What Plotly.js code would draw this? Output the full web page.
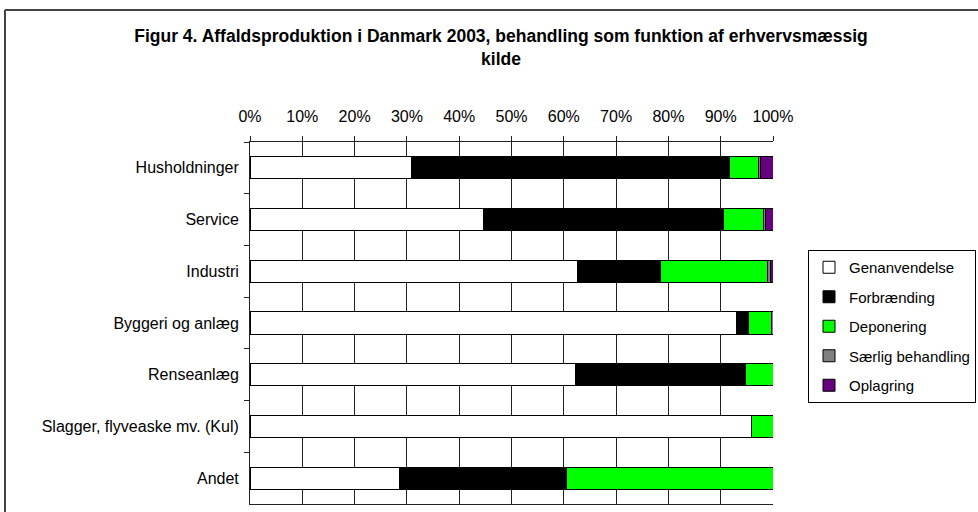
<!DOCTYPE html>
<html>
<head>
<meta charset="utf-8">
<script src="https://cdn.plot.ly/plotly-3.0.1.min.js"></script>
<style>html,body{margin:0;padding:0;background:#fff;}#chart{width:978px;height:512px;}</style>
</head>
<body>
<div id="chart"></div>
<script>
const categories = ['Husholdninger', 'Service', 'Industri', 'Byggeri og anlæg', 'Renseanlæg', 'Slagger, flyveaske mv. (Kul)', 'Andet'];
const genanvendelse = [30.8, 44.7, 62.6, 93.1, 62.3, 95.8, 28.5];
const forbraending  = [60.8, 45.9, 15.9, 2.2, 32.4, 0, 32.0];
const deponering    = [5.7, 7.6, 20.4, 4.5, 5.3, 4.2, 39.5];
const saerlig       = [0.4, 0.4, 0.6, 0.2, 0, 0, 0];
const oplagring     = [2.3, 1.4, 0.5, 0, 0, 0, 0];
const seriesNames = ['Genanvendelse', 'Forbrænding', 'Deponering', 'Særlig behandling', 'Oplagring'];
const seriesColors = ['#ffffff', '#000000', '#00ff00', '#808080', '#660080'];
const tickVals = [0, 10, 20, 30, 40, 50, 60, 70, 80, 90, 100];

const FONT = 'Liberation Sans, Arial, sans-serif';
const values = [genanvendelse, forbraending, deponering, saerlig, oplagring];
const traces = values.map((v, i) => ({
  type: 'bar', orientation: 'h',
  x: v, y: categories,
  name: seriesNames[i],
  legendgroup: 'g' + i,
  width: 0.43,
  marker: {color: seriesColors[i], line: {color: '#000', width: 1}},
  hoverinfo: 'skip'
}));

const plotL = 250, plotR = 773, plotT = 142, plotB = 504, W = 978, H = 512;
const px = x => (x - plotL) / (plotR - plotL);
const py = y => (plotB - y) / (plotB - plotT);

const layout = {
  width: W, height: H,
  margin: {l: plotL, r: W - plotR, t: plotT, b: H - plotB, pad: 0, autoexpand: false},
  paper_bgcolor: '#fff', plot_bgcolor: '#fff',
  barmode: 'stack',
  font: {family: FONT, size: 16, color: '#000'},
  title: {
    text: '<b>Figur 4. Affaldsproduktion i Danmark 2003, behandling som funktion af erhvervsmæssig<br>kilde</b>',
    font: {family: FONT, size: 17.5, color: '#000'},
    xref: 'container', x: 501 / W, xanchor: 'center',
    yref: 'container', y: 1 - 42 / H, yanchor: 'top'
  },
  xaxis: {
    side: 'top', range: [0, 100], tickvals: tickVals, ticktext: tickVals.map(v => v + '%'),
    showgrid: true, gridcolor: '#222', gridwidth: 1,
    showline: true, linecolor: '#222', linewidth: 1, mirror: true,
    ticks: 'outside', ticklen: 5, tickcolor: '#222',
    tickfont: {family: FONT, size: 16, color: '#000'},
    ticklabelstandoff: 8,
    zeroline: false, fixedrange: true
  },
  yaxis: {
    autorange: 'reversed', type: 'category',
    tickson: 'boundaries', ticks: 'outside', ticklen: 5, tickcolor: '#222',
    showgrid: false, showline: true, linecolor: '#222', linewidth: 1,
    tickfont: {family: FONT, size: 16, color: '#000'},
    ticklabelstandoff: 7,
    zeroline: false, fixedrange: true
  },
  showlegend: true,
  legend: {
    x: px(808), y: py(250), xanchor: 'left', yanchor: 'top',
    bgcolor: '#fff', bordercolor: '#000', borderwidth: 1,
    font: {family: FONT, size: 15, color: '#000'},
    traceorder: 'grouped', tracegroupgap: 7,
    itemwidth: 30
  },
  shapes: [
    {type: 'line', xref: 'paper', yref: 'paper', x0: px(5), x1: px(W + 5), y0: py(10), y1: py(10), line: {color: '#444', width: 2}},
    {type: 'line', xref: 'paper', yref: 'paper', x0: px(5), x1: px(5), y0: py(10), y1: py(H + 5), line: {color: '#444', width: 2}}
  ]
};

Plotly.newPlot('chart', traces, layout, {staticPlot: true, displayModeBar: false});
</script>
</body>
</html>
